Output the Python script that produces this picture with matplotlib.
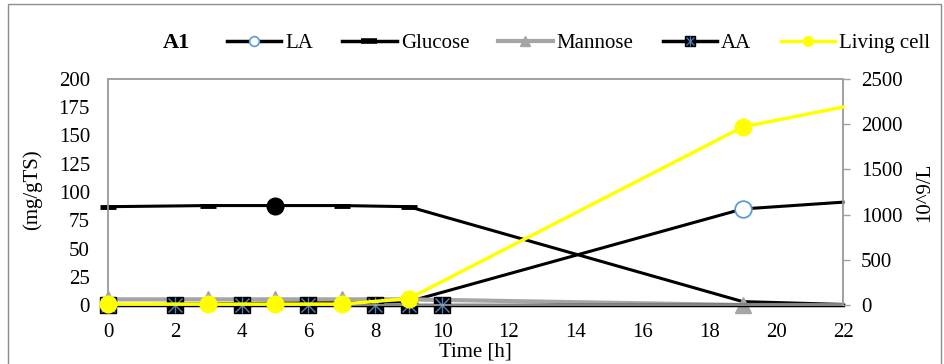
import matplotlib
matplotlib.use("Agg")
import matplotlib.pyplot as plt
from matplotlib.lines import Line2D
from matplotlib.patches import Rectangle
from matplotlib.legend_handler import HandlerTuple

plt.rcParams['font.family'] = ['Liberation Serif', 'DejaVu Serif']

# Sampling times [h] and measured values
t_la = [0, 9, 19, 22]
la = [0, 3, 85, 91]

t_glucose = [0, 3, 5, 7, 9, 19, 22]
glucose = [87, 88, 88, 88, 87, 3, 0.5]

t_mannose = [0, 3, 5, 7, 9, 19, 22]
mannose = [5, 5, 5, 5, 5, 0, 0]

t_aa = [0, 2, 4, 6, 8, 9, 10, 19, 22]
aa = [0, 0, 0, 0, 0, 0, 0, 0, 0]

t_cell = [0, 3, 5, 7, 9, 19, 22]
living_cell = [10, 10, 10, 10, 70, 1970, 2190]

x_ticks = list(range(0, 23, 2))
left_ticks = list(range(0, 201, 25))
right_ticks = list(range(0, 2501, 500))

BLACK = '#000000'
GRAY = '#A5A5A5'
BLUE = '#4F81BD'
YELLOW = '#FFFF00'
SPINE = '#A0A0A0'
FS = 15

W, H = 944, 364
fig = plt.figure(figsize=(W / 100, H / 100), dpi=100)
ax = fig.add_axes([108 / W, 1 - 305 / H, (843 - 108) / W, (305 - 79) / H])
ax2 = ax.twinx()

# chart-area border
fig.patches.append(Rectangle((8 / W, -0.05), (941 - 8) / W, 1.05 - 4 / H,
                             transform=fig.transFigure, fill=False,
                             edgecolor='#8C8C8C', linewidth=1.0, zorder=0))

# LA
ax.plot(t_la, la, color=BLACK, lw=2.2, marker='o', ms=12, mfc='white',
        mec='#5B9BD5', mew=1.3, markevery=[2], clip_on=False, zorder=3)
# Glucose: dash markers plus one filled circle
ax.plot(t_glucose, glucose, color=BLACK, lw=2.2, marker='_', ms=12, mew=3.5,
        markevery=[0, 1, 3, 4], clip_on=False, zorder=3)
ax.plot([t_glucose[2]], [glucose[2]], ls='none', marker='o', ms=12,
        color=BLACK, clip_on=False, zorder=3)
# Mannose
ax.plot(t_mannose, mannose, color=GRAY, lw=3, marker='^', ms=12,
        mfc=GRAY, mec=GRAY, markevery=[0, 1, 2, 3, 4, 5],
        clip_on=False, zorder=4)
# AA: black squares with a blue star
ax.plot(t_aa, aa, color=BLACK, lw=2.5, clip_on=False, zorder=5)
ax.plot(t_aa[:7], aa[:7], ls='none', marker='s', ms=12, mfc=BLACK,
        mec=BLACK, clip_on=False, zorder=6)
ax.plot(t_aa[:7], aa[:7], ls='none', marker='x', ms=10, mec=BLUE, mew=1.0,
        clip_on=False, zorder=7)
ax.plot(t_aa[:7], aa[:7], ls='none', marker='|', ms=11, mec=BLUE, mew=1.0,
        clip_on=False, zorder=7)
# Living cell on secondary axis
ax2.plot(t_cell, living_cell, color=YELLOW, lw=2.5, marker='o', ms=12,
         mfc=YELLOW, mec=YELLOW, markevery=[0, 1, 2, 3, 4, 5],
         clip_on=False, zorder=8)

ax.set_xlim(0, 22)
ax.set_ylim(0, 200)
ax2.set_ylim(0, 2500)
ax.set_xticks(x_ticks)
ax.set_yticks(left_ticks)
ax2.set_yticks(right_ticks)
ax.tick_params(axis='x', length=0, pad=13, labelsize=FS)
ax.tick_params(axis='y', length=0, pad=13, labelsize=FS)
ax2.tick_params(axis='y', length=5, width=1, color=SPINE, pad=8, labelsize=FS)

for a in (ax, ax2):
    for s in a.spines.values():
        s.set_color(SPINE)
        s.set_linewidth(1.2)

ax.set_xlabel('Time [h]', fontsize=FS, labelpad=0)
ax.xaxis.set_label_coords(0.5, -0.165)
fig.text(32 / W, 1 - 190 / H, '(mg/gTS)', rotation=90, ha='center',
         va='center', fontsize=FS)
fig.text(925 / W, 1 - 192 / H, '10^9/L', rotation=90, ha='center',
         va='center', fontsize=FS)

fig.text(176 / W, 1 - 43 / H, 'A1', ha='center', va='center',
         fontsize=FS + 1, fontweight='bold')

h_la = Line2D([], [], color=BLACK, lw=2.5, marker='o', ms=7, mfc='white',
              mec='#5B9BD5', mew=1.2)
h_glu = Line2D([], [], color=BLACK, lw=2.5, marker='_', ms=12, mew=4)
h_man = Line2D([], [], color=GRAY, lw=3, marker='^', ms=7, mfc=GRAY, mec=GRAY)
h_aa1 = Line2D([], [], color=BLACK, lw=2.5, marker='s', ms=7, mfc=BLACK, mec=BLACK)
h_aa2 = Line2D([], [], ls='none', marker='x', ms=6, mec=BLUE, mew=0.9)
h_aa3 = Line2D([], [], ls='none', marker='|', ms=7, mec=BLUE, mew=0.9)
h_cell = Line2D([], [], color=YELLOW, lw=2.5, marker='o', ms=7, mfc=YELLOW, mec=YELLOW)

fig.legend([h_la, h_glu, h_man, (h_aa1, h_aa2, h_aa3), h_cell],
           ['LA', 'Glucose', 'Mannose', 'AA', 'Living cell'],
           handler_map={tuple: HandlerTuple(ndivide=1, pad=0)},
           loc='center left', bbox_to_anchor=(227 / W, 1 - 43 / H),
           ncol=5, frameon=False, fontsize=FS, handlelength=2.6,
           handletextpad=0.2, columnspacing=1.4, borderpad=0,
           borderaxespad=0)

fig.savefig('out.png', dpi=100)
